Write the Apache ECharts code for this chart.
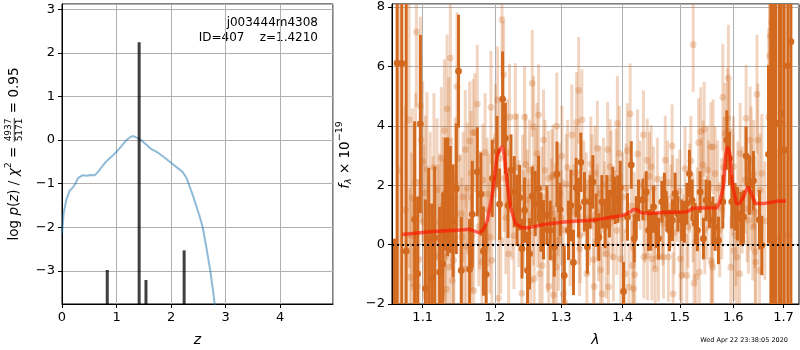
<!DOCTYPE html>
<html><head><meta charset="utf-8">
<script src="https://cdn.jsdelivr.net/npm/echarts@6/dist/echarts.min.js"></script>
<style>html,body{margin:0;padding:0;background:#fff}#c{width:800px;height:350px}</style>
</head><body><div id="c"></div>
<script>
// ---------- Left panel: log p(z) ----------
const pzZ = [0.00,0.03,0.08,0.14,0.20,0.25,0.29,0.37,0.46,0.52,0.60,0.66,0.72,0.81,0.91,1.00,1.09,1.18,1.27,1.31,1.36,1.43,1.55,1.64,1.76,1.88,2.01,2.13,2.21,2.28,2.34,2.40,2.46,2.52,2.58,2.65,2.72,2.78,2.82];
const pzLogp = [-2.14,-1.68,-1.37,-1.16,-1.09,-0.99,-0.88,-0.81,-0.82,-0.80,-0.81,-0.73,-0.63,-0.49,-0.38,-0.27,-0.14,0.00,0.08,0.09,0.06,0.02,-0.11,-0.21,-0.29,-0.40,-0.53,-0.65,-0.73,-0.86,-1.06,-1.27,-1.50,-1.73,-2.00,-2.48,-3.00,-3.55,-4.00];
const spikeZ = [0.83,1.415,1.54,2.24];
const spikeTop = [-2.98,2.24,-3.21,-2.53];

// ---------- Right panel: spectrum ----------
const darkLam = [1.0631,1.0666,1.0726,1.0783,1.0893,1.0933,1.0969,1.1036,1.1080,1.1120,1.1160,1.1227,1.1268,1.1305,1.1336,1.1373,1.1410,1.1455,1.1486,1.1524,1.1640,1.1678,
1.1749,1.1800,1.1836,1.1875,1.1963,1.2031,1.2069,1.2113,1.2153,1.2192,1.2236,1.2285,1.2325,1.2364,1.2400,1.2438,1.2483,1.2513,1.2554,1.2599,1.2650,1.2686,1.2726,1.2778,1.2830,
1.2892,1.2934,1.2985,1.3048,1.3115,1.3153,1.3194,1.3237,1.3274,1.3312,1.3370,1.3418,1.3463,1.3507,1.3561,1.3605,1.3654,1.3708,1.3736,1.3779,1.3836,1.3874,1.3919,1.3960,1.4015,1.4083,1.4147,1.4198,
1.4233,1.4272,1.4348,1.4405,1.4445,1.4486,1.4532,1.4579,1.4619,1.4679,1.4725,1.4767,1.4814,1.4867,1.4916,1.4964,1.5037,1.5084,1.5128,1.5175,1.5225,1.5280,1.5322,1.5373,1.5434,1.5485,1.5547,1.5610,
1.5653,1.5716,1.5799,1.5875,1.5926,1.5971,1.6035,1.6080,1.6146,1.6197,1.6250,1.6314,1.6394,1.6513,1.6561,1.6694,1.6742,1.6795,1.6844,1.6917,1.6952,1.7013,1.7089,1.7151];
const darkFlux = [-6.0,6.11,6.10,-0.22,0.85,-0.98,4.06,-1.48,0.18,-1.12,0.23,-0.93,-0.65,1.70,1.61,1.52,0.80,1.88,5.84,-0.87,-0.83,1.02,
2.45,1.70,-0.22,-1.00,2.23,3.13,1.36,4.90,3.58,1.32,2.51,1.78,1.15,1.58,-0.14,1.16,-0.87,-0.31,1.63,1.38,1.89,0.76,0.50,0.99,0.48,
-0.08,2.37,1.18,-1.04,0.48,1.32,-0.60,1.92,1.25,2.77,1.44,-0.08,1.44,2.11,0.82,0.25,1.44,0.68,1.44,1.04,1.72,1.49,1.53,1.92,-1.58,0.93,2.68,0.20,
0.93,1.49,1.52,1.77,0.48,0.50,1.27,0.48,0.20,1.44,1.72,1.04,0.48,0.82,1.72,1.04,0.82,0.76,1.38,2.39,1.49,0.71,0.48,1.77,0.20,1.49,1.36,0.82,
0.59,0.14,1.44,3.52,2.90,1.44,1.27,1.04,0.87,0.93,2.98,2.00,2.15,0.84,-0.03,3.04,5.66,6.31,4.06,4.10,4.42,3.18,6.02,6.83];
const darkErr = [6.2,12,12,9,3.3,2.6,3.0,3.0,2.4,2.5,2.4,2.2,2.4,1.9,2.0,1.8,1.9,2.2,1.9,1.8,1.7,1.8,
1.5,1.4,1.5,1.7,1.3,1.2,1.2,1.6,1.2,1.1,1.2,1.2,1.2,1.1,1.0,1.1,1.3,1.2,1.0,1.1,1.1,1.0,1.0,1.0,1.0,
1.0,1.1,0.9,1.0,1.0,1.2,1.1,1.0,1.0,1.0,1.0,0.9,0.9,0.9,0.9,0.8,0.9,0.8,0.9,0.8,0.9,0.8,0.8,0.9,1.0,0.8,0.8,0.8,
0.7,0.7,0.7,0.7,0.7,0.7,0.7,0.6,0.7,0.7,0.7,0.6,0.7,0.7,0.7,0.6,0.7,0.7,0.7,0.8,0.7,0.7,0.7,0.7,0.7,0.7,0.8,0.8,
0.8,0.8,0.9,1.0,0.9,0.9,0.8,0.9,0.9,0.9,1.0,1.0,1.0,1.0,1.0,3.0,10,12,10,12,12,12,12,12];

const lightLam = [1.0917,1.1373,1.1328,1.1465,1.1292,1.1350,1.1640,1.1688,1.1580,1.0969,1.0979,1.1057,1.0906,1.0862,1.0774,1.1036,1.1192,1.1273,1.1387,1.1510,1.1441,1.1227,1.1139,1.1014,1.1531,1.1674,1.1594,1.1305,1.1170,1.1418,1.1359,1.0883,1.0831,1.0929,1.1400,1.1319,1.1260,1.1697,1.1566,1.0700,1.0820,
1.2104,1.2127,1.1749,1.1944,1.2040,1.2215,1.2300,1.2438,1.2554,1.2650,1.2574,1.2726,1.2625,1.2456,1.2513,1.1713,1.1829,1.1999,1.2138,1.2804,1.2856,1.1782,1.1910,1.2353,1.2423,1.2638,1.1928,1.2087,1.2201,1.1657,1.1815,1.1956,1.2054,1.2397,1.2531,1.2584,1.2668,1.2706,1.2807,1.2876,
1.3277,1.3245,1.3328,1.3168,1.2931,1.3011,1.4128,1.3912,1.3580,1.3749,1.3945,1.4079,1.3474,1.3791,1.2874,1.3080,1.3491,1.3807,1.3626,1.2974,1.2908,1.3274,1.3418,1.3599,1.3903,1.3293,1.2959,1.3725,1.3846,1.3968,1.3517,1.3634,1.3409,1.2923,1.3035,1.2882,1.3054,1.3528,1.3659,1.3763,1.4040,1.4169,1.4109,
1.5245,1.4356,1.5448,1.5385,1.4862,1.5572,1.5345,1.4255,1.4422,1.4739,1.4491,1.5200,1.5095,1.5428,1.5513,1.4198,1.4873,1.4364,1.4426,1.4503,1.4619,1.4707,1.4795,1.5007,1.4207,1.4561,1.5037,1.5128,1.5296,1.5357,1.5590,1.4186,1.4880,1.5260,
1.5906,1.5799,1.6464,1.6762,1.6728,1.6714,1.6779,1.6698,1.5891,1.5843,1.5929,1.6250,1.6328,1.6480,1.5616,1.6133,1.6349,1.6003,1.6398,1.5653,1.6230,1.6089,1.6526,1.6917,1.5780,1.6295,1.6382,1.6897,1.7066,1.6013,1.6069,1.6430,1.5578,1.5610,1.6440,1.6513,1.5952,1.6121,
1.2250,1.2480,1.3000,1.3200,1.3400,1.3700,1.4000,1.4530,1.4680,1.4950,1.5150,1.5320,1.5500,
1.0850,1.0950,1.1000,1.1070,1.1100,1.1150,1.1210,1.1250,1.1290,1.1420,1.1480,1.1550,1.1610,1.1660,
1.1770,1.1860,1.1890,1.2010,1.2070,1.2160,1.2180,1.2280,1.2330,1.2410,1.2500,1.2570,1.2610,1.2700,1.2750,1.2790,1.2850,
1.2950,1.3030,1.3100,1.3140,1.3220,1.3300,1.3360,1.3450,1.3540,1.3580,1.3680,1.3760,1.3820,1.3890,1.3980,1.4060,1.4150,
1.4300,1.4380,1.4460,1.4550,1.4600,1.4700,1.4780,1.4840,1.4900,1.5000,1.5060,1.5180,1.5240,1.5400,1.5460,1.5530,
1.5700,1.5740,1.5820,1.5990,1.6050,1.6170,1.6270,1.6350,1.6420,1.6560,1.6620];
const lightFlux = [7.16,6.28,4.57,5.32,3.84,3.43,3.49,3.77,3.20,4.67,3.52,2.53,2.11,1.58,1.16,1.74,1.85,1.32,1.40,1.04,2.08,0.76,0.48,0.76,0.25,0.31,-0.06,-0.42,-0.40,-0.53,-0.76,-1.43,-1.10,-1.41,-1.21,-1.50,-1.66,-1.55,-0.82,2.50,4.20,
7.57,5.72,4.73,4.62,4.87,4.29,4.31,4.29,5.43,4.37,3.97,3.52,3.07,2.70,2.51,3.77,2.17,1.94,2.23,2.23,2.28,1.16,1.16,1.04,0.82,0.93,0.25,0.14,-0.31,-0.31,-0.59,-0.53,-1.80,-1.64,-1.21,-1.15,-0.98,-0.70,-1.41,-0.48,
5.19,4.11,4.20,3.69,3.99,2.98,4.40,4.08,3.24,3.20,3.07,3.16,2.71,2.62,2.34,2.03,2.11,2.23,1.72,1.72,1.04,0.93,0.59,0.37,0.48,-0.14,0.14,-0.31,-0.42,-0.48,-0.51,-0.85,-0.98,-0.76,-1.66,-1.70,-1.94,-1.41,-1.66,-1.43,-0.98,-0.70,-1.43,
6.73,3.69,3.88,3.80,3.32,3.29,3.43,3.05,2.84,2.84,2.62,2.82,2.56,2.68,2.51,1.04,1.61,-0.42,-0.37,-0.48,-0.42,-0.42,-0.42,-0.48,-1.01,-0.82,-1.04,-1.04,-1.10,-0.93,-0.65,-1.49,-1.66,-1.30,
5.60,4.96,5.06,7.46,7.01,6.36,4.59,4.29,4.25,3.75,3.80,4.25,3.52,3.52,3.29,3.07,2.84,2.62,2.39,2.39,2.17,1.77,1.83,1.49,1.21,0.82,0.59,0.25,0.31,-0.20,-0.42,-0.25,-0.53,-0.76,-0.59,-0.87,-0.76,-0.98,
1.20,1.50,0.90,1.10,1.50,1.20,1.60,1.90,0.90,1.50,0.60,1.20,0.90,
0.30,-0.50,2.80,-0.20,1.20,2.60,0.20,2.90,0.50,0.10,2.90,1.60,1.90,2.40,
0.60,3.10,1.70,3.50,2.90,0.90,3.10,0.30,2.60,1.90,0.40,1.00,2.20,1.60,2.50,0.10,1.20,
1.30,0.50,2.60,0.20,2.40,0.30,1.90,0.90,2.40,1.10,2.00,0.60,1.00,2.40,0.90,1.90,1.30,
2.00,0.90,2.30,0.60,2.20,0.70,2.10,1.30,0.40,1.80,0.30,1.90,0.90,2.10,0.50,2.00,
1.90,0.50,2.60,2.00,0.30,1.50,1.20,1.60,1.10,2.40,0.80];
const lightErr = [2.5,2.8,2.5,2.5,2.4,2.2,2.0,1.8,2.0,3.0,2.8,2.6,3.0,3.0,3.5,2.6,2.4,2.3,2.2,2.0,2.2,2.3,2.5,2.6,2.0,1.9,2.0,2.3,2.4,2.2,2.2,3.0,3.0,3.0,2.2,2.3,2.3,1.9,2.0,6.0,5.0,
1.8,1.8,2.0,1.9,1.8,1.8,1.8,1.7,1.8,1.7,1.7,1.7,1.7,1.7,1.7,2.0,1.9,1.8,1.8,1.6,1.6,2.0,1.9,1.8,1.7,1.7,1.9,1.8,1.8,2.0,1.9,1.9,1.8,1.7,1.7,1.7,1.7,1.7,1.6,1.6,
1.8,1.7,1.7,1.7,1.8,1.7,1.7,1.6,1.6,1.6,1.6,1.6,1.6,1.6,1.7,1.7,1.6,1.6,1.6,1.7,1.7,1.6,1.6,1.6,1.5,1.6,1.7,1.5,1.5,1.5,1.6,1.6,1.6,1.7,1.7,1.7,1.7,1.6,1.6,1.5,1.5,1.5,1.5,
1.6,1.5,1.6,1.5,1.4,1.5,1.5,1.5,1.4,1.5,1.4,1.5,1.4,1.5,1.5,1.4,1.4,1.4,1.5,1.4,1.5,1.4,1.5,1.4,1.5,1.4,1.5,1.4,1.5,1.5,1.5,1.5,1.4,1.5,
1.8,1.8,2.0,3.0,3.0,3.0,3.0,3.0,1.7,1.7,1.7,1.8,1.8,1.9,1.6,1.7,1.8,1.7,1.8,1.6,1.8,1.7,1.9,3.0,1.7,1.8,1.8,3.0,3.0,1.7,1.7,1.8,1.6,1.6,1.8,1.9,1.7,1.7,
1.7,1.7,1.6,1.6,1.6,1.6,1.5,1.4,1.4,1.4,1.4,1.4,1.4,
2.8,2.7,2.7,2.6,2.6,2.5,2.5,2.4,2.4,2.3,2.3,2.2,2.2,2.1,
2.0,2.0,1.9,1.9,1.9,1.9,1.8,1.8,1.8,1.8,1.8,1.7,1.7,1.7,1.7,1.7,1.7,
1.7,1.7,1.6,1.6,1.6,1.6,1.6,1.6,1.6,1.6,1.6,1.6,1.5,1.5,1.5,1.5,1.5,
1.5,1.5,1.5,1.4,1.4,1.4,1.4,1.4,1.4,1.4,1.4,1.5,1.5,1.5,1.5,1.5,
1.6,1.6,1.7,1.7,1.7,1.8,1.8,1.8,1.9,2.0,2.0];

const modelLam = [1.073,1.110,1.156,1.163,1.170,1.177,1.183,1.189,1.193,1.198,1.203,1.207,1.211,1.214,1.218,1.223,1.230,1.240,1.252,1.273,1.304,1.358,1.401,1.409,1.418,1.424,1.432,1.447,1.471,1.512,1.524,1.569,1.574,1.581,1.585,1.589,1.593,1.599,1.606,1.612,1.620,1.628,1.635,1.643,1.659,1.687,1.705];
const modelFlux = [0.34,0.43,0.50,0.52,0.46,0.40,0.48,0.80,1.27,1.95,2.96,3.19,3.30,2.96,2.06,1.27,0.71,0.57,0.57,0.68,0.76,0.84,0.99,1.05,1.18,1.18,1.07,1.05,1.08,1.10,1.22,1.24,1.44,1.95,2.96,3.30,3.08,1.95,1.38,1.38,1.61,1.95,1.73,1.38,1.38,1.46,1.47];
const lamTicks = [1.1,1.2,1.3,1.4,1.5,1.6,1.7];
const lamRange = [1.06,1.732];

// ---------- build ----------
const FONT = 'DejaVu Sans';
const SP = '\u2212';
const fmtNum = v => (v < 0 ? SP + String(-v) : String(v));
const CHOC = '#d2691e';

function errRender(alpha) {
  return function (params, api) {
    const cs = params.coordSys;
    const top = cs.y, bot = cs.y + cs.height;
    const x = api.value(0), y = api.value(1), e = api.value(2);
    const p = api.coord([x, y]);
    const lo = api.coord([x, y - e]);
    const hi = api.coord([x, y + e]);
    const y1 = Math.min(Math.max(hi[1], top), bot);
    const y2 = Math.min(Math.max(lo[1], top), bot);
    const ch = [{type: 'line', shape: {x1: p[0], y1: y1, x2: p[0], y2: y2},
      style: {stroke: CHOC, lineWidth: 3, opacity: alpha}}];
    if (p[1] >= top && p[1] <= bot) {
      ch.push({type: 'circle', shape: {cx: p[0], cy: p[1], r: 3.4}, style: {fill: CHOC, opacity: alpha}});
    }
    return {type: 'group', children: ch};
  };
}
function spikeRender(params, api) {
  const cs = params.coordSys;
  const bot = cs.y + cs.height;
  const p = api.coord([api.value(0), api.value(1)]);
  return {type: 'line', shape: {x1: p[0], y1: Math.max(p[1], cs.y), x2: p[0], y2: bot},
    style: {stroke: 'rgba(0,0,0,0.75)', lineWidth: 3}};
}

const lg = v => Math.log10(v);
const darkData = darkLam.map((l, i) => [lg(l), darkFlux[i], darkErr[i]]);
const lightData = lightLam.map((l, i) => [lg(l), lightFlux[i], lightErr[i]]);
const modelData = modelLam.map((l, i) => [lg(l), modelFlux[i]]);
const pzData = pzZ.map((z, i) => [z, pzLogp[i]]);
const spikeData = spikeZ.map((z, i) => [z, spikeTop[i]]);

// text measurement for composed axis titles
const mctx = document.createElement('canvas').getContext('2d');
function tw(t, s, it) { mctx.font = (it ? 'italic ' : '') + s + 'px "' + FONT + '"'; return mctx.measureText(t).width; }
function composeLabel(pieces, cx, cy) {
  const ws = pieces.map(p => p.frac ? Math.max(tw(p.num, p.s), tw(p.den, p.s)) + 2 : tw(p.t, p.s, p.i));
  const total = ws.reduce((a, b) => a + b, 0);
  let x = -total / 2;
  const ch = [];
  pieces.forEach((p, k) => {
    const w = ws[k];
    if (p.frac) {
      ch.push({type: 'text', x: x + w / 2, y: -5.2, style: {text: p.num, font: p.s + 'px "' + FONT + '"', fill: '#000', align: 'center', verticalAlign: 'middle'}});
      ch.push({type: 'text', x: x + w / 2, y: 5.6, style: {text: p.den, font: p.s + 'px "' + FONT + '"', fill: '#000', align: 'center', verticalAlign: 'middle'}});
      ch.push({type: 'line', shape: {x1: x + 0.5, y1: 0.3, x2: x + w - 0.5, y2: 0.3}, style: {stroke: '#000', lineWidth: 0.8}});
    } else {
      ch.push({type: 'text', x: x, y: p.dy || 0, style: {text: p.t, font: (p.i ? 'italic ' : '') + p.s + 'px "' + FONT + '"', fill: '#000', align: 'left', verticalAlign: 'middle'}});
    }
    x += w;
  });
  return {type: 'group', x: cx, y: cy, rotation: Math.PI / 2, children: ch};
}

const leftTitle = composeLabel([
  {t: 'log ', s: 13.5}, {t: 'p', s: 13.5, i: true}, {t: '(', s: 13.5}, {t: 'z', s: 13.5, i: true},
  {t: ') / ', s: 13.5}, {t: '\u03c7', s: 13.5, i: true}, {t: '2', s: 9.5, dy: -5}, {t: ' = ', s: 13.5},
  {frac: true, num: '4937', den: '5171', s: 9}, {t: ' = 0.95', s: 13.5}
], 14, 154);
const rightTitle = composeLabel([
  {t: 'f', s: 13.5, i: true}, {t: '\u03bb', s: 9.5, i: true, dy: 3.5}, {t: ' \u00d7 10', s: 13.5}, {t: SP + '19', s: 9.5, dy: -5}
], 345, 155);

const axisCommon = {
  axisLine: {show: true, onZero: false, lineStyle: {color: '#000', width: 1}},
  axisTick: {show: true, inside: false, length: 4, lineStyle: {color: '#000', width: 1}},
  splitLine: {show: true, lineStyle: {color: '#b0b0b0', width: 1}},
};
const labelStyle = {color: '#000', fontFamily: FONT, fontSize: 13};

const chart = echarts.init(document.getElementById('c'), null, {renderer: 'canvas'});
chart.setOption({
  animation: false,
  backgroundColor: '#fff',
  grid: [
    {left: 62, top: 4, width: 271, height: 300, show: true, borderColor: '#000', borderWidth: 1, backgroundColor: 'transparent', containLabel: false, outerBoundsMode: 'none'},
    {left: 392, top: 4, width: 407, height: 300, show: true, borderColor: '#000', borderWidth: 1, backgroundColor: 'transparent', containLabel: false, outerBoundsMode: 'none'}
  ],
  xAxis: [
    Object.assign({}, axisCommon, {
      gridIndex: 0, type: 'value', min: 0, max: 4.97,
      axisLabel: Object.assign({}, labelStyle, {margin: 7, showMaxLabel: false, formatter: fmtNum}),
      name: 'z', nameLocation: 'middle', nameGap: 29,
      nameTextStyle: {color: '#000', fontFamily: FONT, fontSize: 14, fontStyle: 'italic'}
    }),
    Object.assign({}, axisCommon, {
      gridIndex: 1, type: 'value', min: lg(lamRange[0]), max: lg(lamRange[1]),
      axisTick: {show: true, inside: false, length: 4, lineStyle: {color: '#000'}, customValues: lamTicks.map(lg)},
      axisLabel: Object.assign({}, labelStyle, {margin: 7, customValues: lamTicks.map(lg), formatter: v => Math.pow(10, v).toFixed(1)}),
      name: '\u03bb', nameLocation: 'middle', nameGap: 29,
      nameTextStyle: {color: '#000', fontFamily: FONT, fontSize: 14, fontStyle: 'italic'}
    })
  ],
  yAxis: [
    Object.assign({}, axisCommon, {
      gridIndex: 0, type: 'value', min: -3.76, max: 3.12,
      axisLabel: Object.assign({}, labelStyle, {margin: 7, showMinLabel: false, showMaxLabel: false, formatter: fmtNum})
    }),
    Object.assign({}, axisCommon, {
      gridIndex: 1, type: 'value', min: -2, max: 8.1,
      axisLabel: Object.assign({}, labelStyle, {margin: 7, showMaxLabel: false, formatter: fmtNum})
    })
  ],
  series: [
    {type: 'line', xAxisIndex: 0, yAxisIndex: 0, data: pzData, showSymbol: false, symbol: 'none', z: 2,
      lineStyle: {color: 'rgba(31,119,180,0.5)', width: 2}, clip: true},
    {type: 'custom', xAxisIndex: 0, yAxisIndex: 0, data: spikeData, renderItem: spikeRender, z: 3},
    {type: 'custom', xAxisIndex: 1, yAxisIndex: 1, data: lightData, renderItem: errRender(0.28), z: 2},
    {type: 'custom', xAxisIndex: 1, yAxisIndex: 1, data: darkData, renderItem: errRender(1), z: 3},
    {type: 'line', xAxisIndex: 1, yAxisIndex: 1, data: modelData, showSymbol: false, symbol: 'none', z: 4,
      lineStyle: {color: 'rgba(255,20,0,0.65)', width: 3.5},
      markLine: {symbol: 'none', silent: true, animation: false, label: {show: false},
        lineStyle: {color: '#000', type: [2, 3], width: 2}, data: [{yAxis: 0}]}}
  ],
  graphic: [
    leftTitle, rightTitle,
    {type: 'text', x: 318, y: 23, style: {text: 'j003444m4308', font: '12px "' + FONT + '"', fill: '#000', align: 'right', verticalAlign: 'middle'}},
    {type: 'text', x: 318, y: 38, style: {text: 'ID=407    z=1.4210', font: '12px "' + FONT + '"', fill: '#000', align: 'right', verticalAlign: 'middle'}},
    {type: 'text', x: 788, y: 340, style: {text: 'Wed Apr 22 23:38:05 2020', font: '6.5px "' + FONT + '"', fill: '#000', align: 'right', verticalAlign: 'middle'}}
  ]
});
</script></body></html>
